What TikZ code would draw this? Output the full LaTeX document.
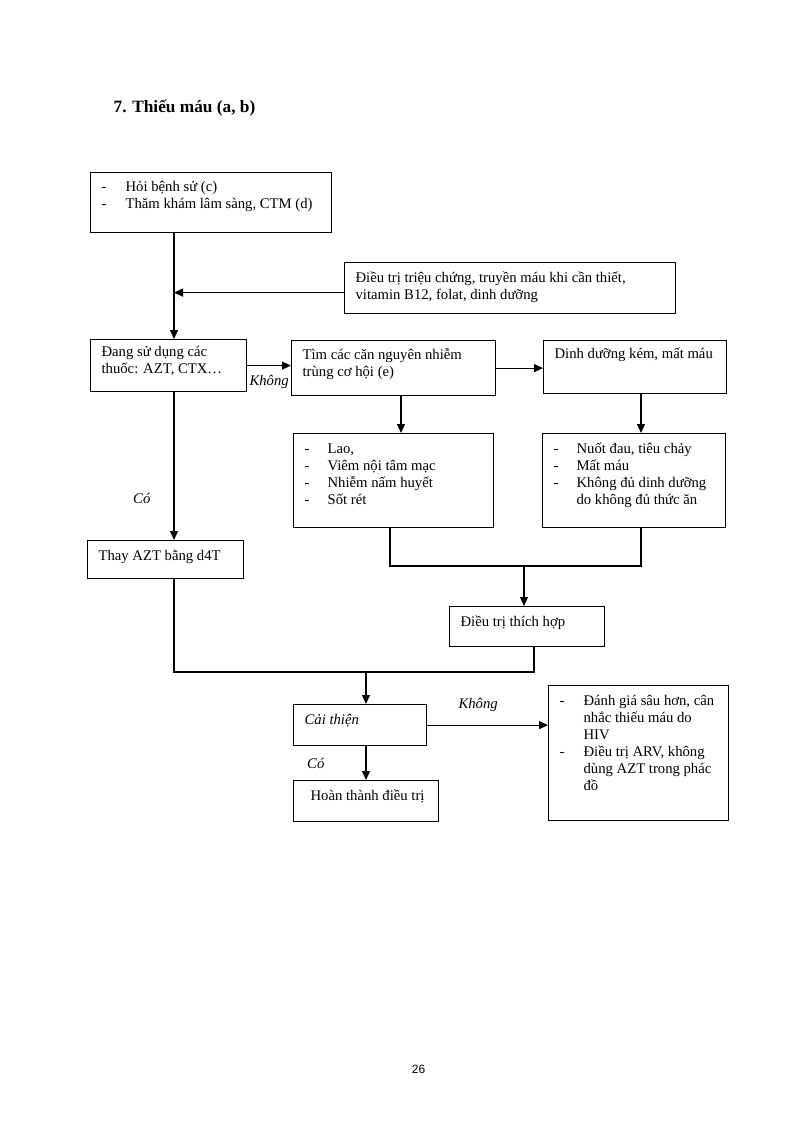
\documentclass[tikz,border=0pt]{standalone}
\usepackage{fontspec}
\setmainfont{Liberation Serif}
\setsansfont{Liberation Sans}
\usetikzlibrary{positioning, arrows.meta}
\lineskiplimit=-20pt
\newcommand{\cell}[4][8pt]{\parbox[b][#3][t]{#2}{\vspace*{#1}\strut#4}}
\newcommand{\itm}[2][23pt]{\noindent\hangindent=#1\hangafter=1\strut\makebox[#1][l]{-}#2\par}
\tikzset{box/.style={draw,line width=1.2pt,anchor=north west,inner xsep=11pt,inner ysep=0pt,font=\fontsize{14.7}{17}\selectfont},
         lbl/.style={inner sep=0pt,font=\fontsize{14.7}{17}\selectfont\itshape},
         every path/.style={line width=1.2pt},
         >={Triangle[length=9pt,width=8pt]},
        }
\begin{document}
\begin{tikzpicture}[x=1pt,y=-1pt]
        \useasboundingbox (0,0) rectangle (794,1124);
        \node[anchor=base west,inner sep=0pt,font=\fontsize{17.3}{20}\selectfont\bfseries](title)at(113,112){7. Thiếu máu (a, b)};
        \node[box](hist)at(90,172){\cell[7pt]{219pt}{60pt}{\itm[24pt]{Hỏi bệnh sử (c)}\itm[24pt]{Thăm khám lâm sàng, CTM (d)}}};
        \node[box](care)at(344,262){\cell{309pt}{51pt}{Điều trị triệu chứng, truyền máu khi cần thiết,\\vitamin B12, folat, dinh dưỡng}};
        \node[box](drug)at(90,339){\cell[5pt]{134pt}{52pt}{Đang sử dụng các\\thuốc: AZT, CTX…}};
        \node[box](oi)at(291,340){\cell[7pt]{182pt}{55pt}{Tìm các căn nguyên nhiễm\\trùng cơ hội (e)}};
        \node[box](diet)at(543,340){\cell[5.5pt]{161pt}{53pt}{\mbox{Dinh dưỡng kém, mất máu}}};
        \node[box](oilist)at(293,433){\cell{178pt}{94pt}{\itm{Lao,}\itm{Viêm nội tâm mạc}\itm{Nhiễm nấm huyết}\itm{Sốt rét}}};
        \node[box](dietlist)at(542,433){\cell{161pt}{94pt}{\itm{Nuốt đau, tiêu chảy}\itm{Mất máu}\itm{Không đủ dinh dưỡng\\do không đủ thức ăn}}};
        \node[box](swap)at(87,540){\cell{134pt}{38pt}{Thay AZT bằng d4T}};
        \node[box](treat)at(449,606){\cell{133pt}{40pt}{Điều trị thích hợp}};
        \node[box](better)at(293,704){\cell{111pt}{41pt}{\textit{Cải thiện}}};
        \node[box](done)at(293,780){\cell{123pt}{41pt}{\mbox{\hspace*{6pt}Hoàn thành điều trị}}};
        \node[box](arv)at(548,685){\cell{158pt}{135pt}{\itm[24pt]{Đánh giá sâu hơn, cân\\nhắc thiếu máu do\\HIV}\itm[24pt]{Điều trị ARV, không\\dùng AZT trong phác\\đồ}}};
        \node[anchor=base,font=\fontsize{12}{14}\selectfont\sffamily](page)at(418.5,1073){26};

        \coordinate(c1)at(174,0);
        \coordinate(c2)at(401,0);
        \coordinate(c3)at(641,0);
        \coordinate(c4)at(390,0);
        \coordinate(c5)at(524,0);
        \coordinate(c6)at(534,0);
        \coordinate(c7)at(366,0);
        \coordinate(r1)at(0,566);
        \coordinate(r2)at(0,672);

        \draw[->](hist.south -| c1)--(drug.north -| c1);
        \draw[->]([yshift=-4.5pt]care.west)--([yshift=-4.5pt]care.west -| c1);
        \draw[->](drug.east)--node[lbl,below=9pt]{Không}(drug.east -| oi.west);
        \draw[->](oi.east)--(oi.east -| diet.west);
        \draw[->](oi.south -| c2)--(oilist.north -| c2);
        \draw[->](diet.south -| c3)--(dietlist.north -| c3);
        \draw[->](drug.south -| c1)--node[lbl,pos=.72,left=23pt]{Có}(swap.north -| c1);
        \draw(oilist.south -| c4)--(r1 -| c4)--(r1 -| c3)--(dietlist.south -| c3);
        \draw[->](r1 -| c5)--(treat.north -| c5);
        \draw(swap.south -| c1)--(r2 -| c1)--(r2 -| c6)--(treat.south -| c6);
        \draw[->](r2 -| c7)--(better.north -| c7);
        \draw[->](better.south -| c7)--node[lbl,left=41pt]{Có}(done.north -| c7);
        \draw[->](better.east)--node[lbl,above=13pt,xshift=-9.5pt]{Không}(better.east -| arv.west);
    \end{tikzpicture}
\end{document}
